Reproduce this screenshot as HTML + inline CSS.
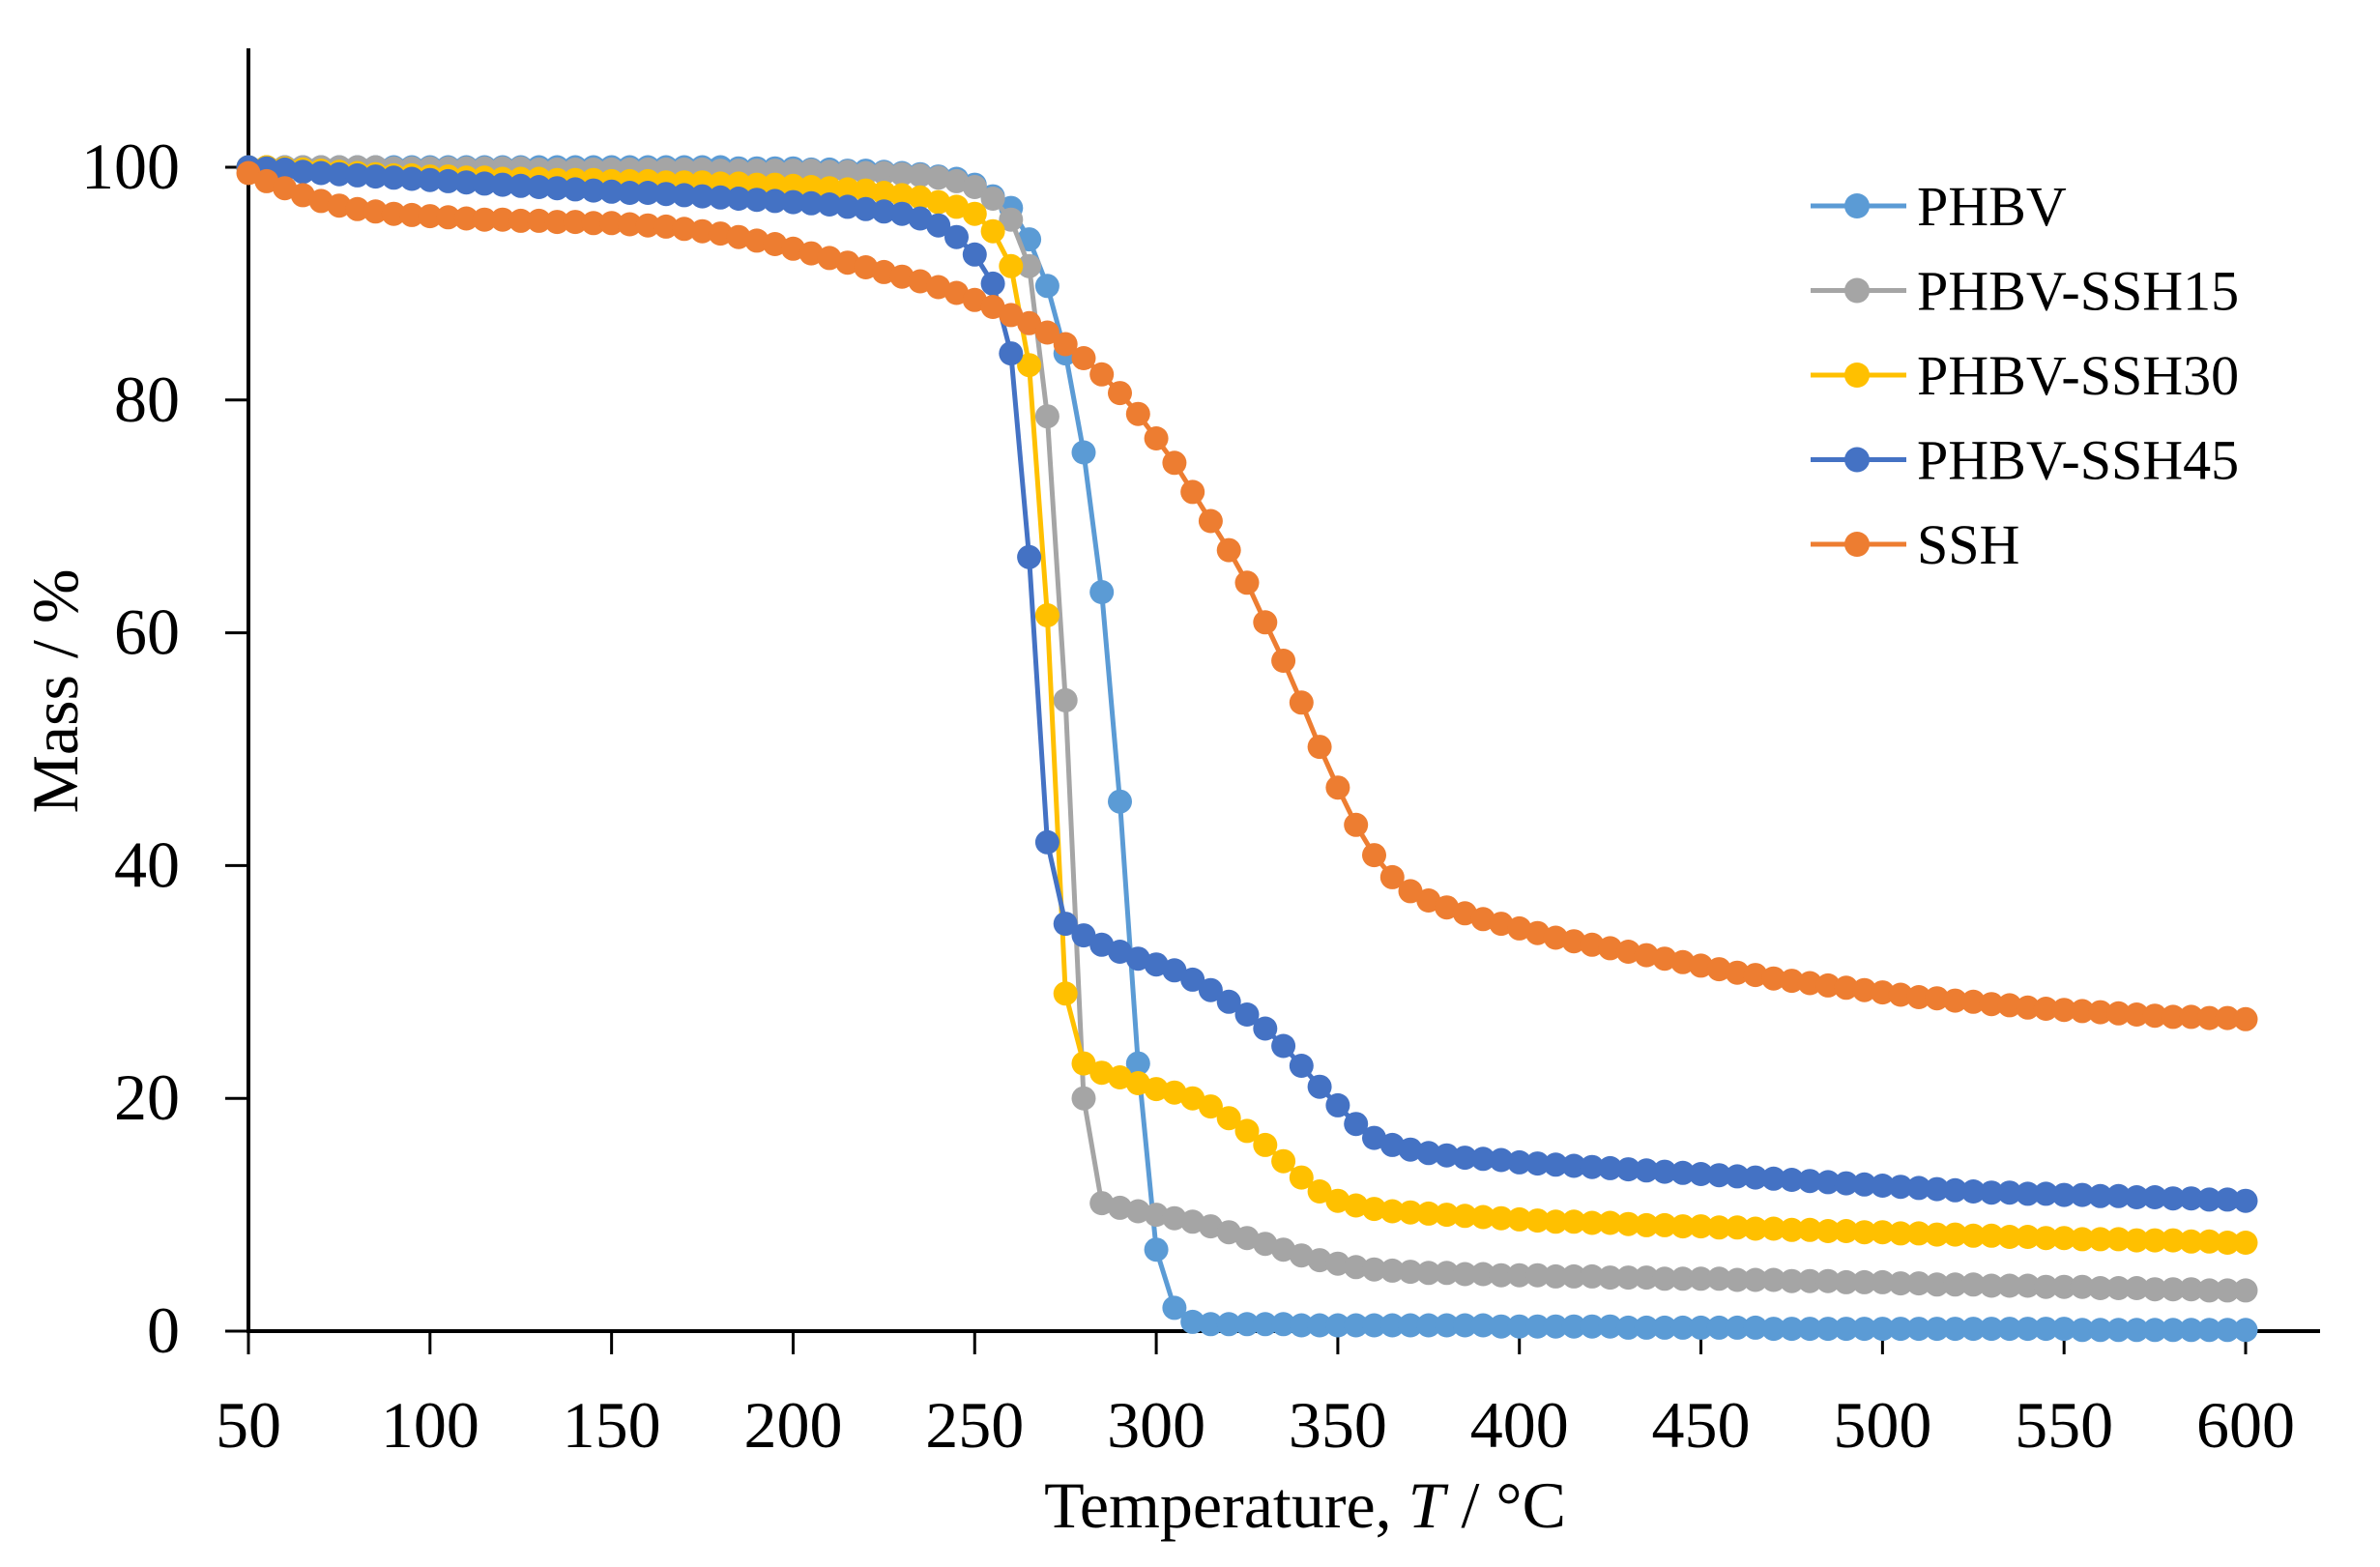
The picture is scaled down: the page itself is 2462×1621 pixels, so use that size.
<!DOCTYPE html>
<html><head><meta charset="utf-8"><style>
html,body{margin:0;padding:0;background:#fff;}
svg{display:block;font-family:"Liberation Serif",serif;}
</style></head><body>
<svg id="chart" width="2462" height="1621" viewBox="0 0 2462 1621" xmlns="http://www.w3.org/2000/svg">
<g id="axes"></g>
<g id="series"></g>
<g id="legend"></g>
<text x="0" y="0" font-size="68" text-anchor="middle" transform="translate(80,715) rotate(-90)">Mass / %</text>
<text x="1350" y="1580" font-size="68" text-anchor="middle">Temperature, <tspan font-style="italic">T</tspan> / °C</text>
</svg>
<script>
const temps = [];
for (let t = 50; t <= 600; t += 5) temps.push(t);
const xTicks = [50,100,150,200,250,300,350,400,450,500,550,600];
const yTicks = [0,20,40,60,80,100];
const seriesNames = ["PHBV","PHBV-SSH15","PHBV-SSH30","PHBV-SSH45","SSH"];
const seriesColors = ["#5B9BD5","#A5A5A5","#FFC000","#4472C4","#ED7D31"];
const phbv = [100,100,100,100,100,100,100,100,100,100,100,
100,100,100,100,100,100,100,100,100,100,
100,100,100,100,100,100,99.9,99.9,99.9,99.9,
99.8,99.8,99.7,99.7,99.6,99.5,99.4,99.2,99.0,98.5,
97.5,96.5,93.8,89.8,84,75.5,63.5,45.5,23,7,
2,0.8,0.6,0.6,0.6,0.6,0.6,0.5,0.5,0.5,
0.5,0.5,0.5,0.5,0.5,0.5,0.5,0.5,0.4,0.4,
0.4,0.4,0.4,0.4,0.4,0.3,0.3,0.3,0.3,0.3,
0.3,0.3,0.3,0.2,0.2,0.2,0.2,0.2,0.2,0.2,
0.2,0.2,0.2,0.2,0.2,0.2,0.2,0.2,0.2,0.2,
0.1,0.1,0.1,0.1,0.1,0.1,0.1,0.1,0.1,0.1];
const ssh15 = [100,100,100,100,100,100,100,100,99.9,99.9,99.9,
99.9,99.9,99.9,99.9,99.9,99.8,99.8,99.8,99.8,99.8,
99.8,99.8,99.8,99.8,99.8,99.7,99.7,99.7,99.7,99.7,
99.7,99.6,99.6,99.5,99.5,99.4,99.3,99.1,98.8,98.3,
97.3,95.5,91.5,78.6,54.2,20,11,10.6,10.3,10,
9.7,9.4,9.0,8.5,8.0,7.5,7.0,6.5,6.1,5.8,
5.5,5.3,5.2,5.1,5.0,5.0,4.9,4.9,4.8,4.8,
4.8,4.7,4.7,4.7,4.6,4.6,4.6,4.5,4.5,4.5,
4.5,4.4,4.4,4.4,4.3,4.3,4.3,4.2,4.2,4.2,
4.1,4.1,4.0,4.0,4.0,3.9,3.9,3.9,3.8,3.8,
3.8,3.7,3.7,3.7,3.6,3.6,3.6,3.5,3.5,3.5];
const ssh30 = [100,100,99.9,99.8,99.7,99.6,99.5,99.4,99.3,99.3,99.2,
99.2,99.1,99.1,99.0,99.0,99.0,98.9,98.9,98.9,98.8,
98.8,98.8,98.7,98.7,98.7,98.6,98.6,98.5,98.5,98.4,
98.3,98.2,98.1,98.0,97.8,97.6,97.4,97.0,96.6,96.0,
94.5,91.5,83,61.5,29,23,22.2,21.8,21.3,20.8,
20.5,20,19.3,18.3,17.2,16,14.6,13.2,12,11.2,
10.8,10.5,10.3,10.2,10.1,10,9.9,9.8,9.7,9.6,
9.5,9.4,9.4,9.3,9.3,9.2,9.1,9.1,9.0,9.0,
8.9,8.9,8.8,8.8,8.7,8.7,8.6,8.6,8.5,8.5,
8.4,8.4,8.3,8.3,8.2,8.2,8.1,8.1,8.0,8.0,
7.9,7.9,7.9,7.8,7.8,7.8,7.7,7.7,7.6,7.6];
const ssh45 = [100,99.9,99.8,99.6,99.5,99.4,99.3,99.2,99.1,99.0,98.9,
98.8,98.7,98.6,98.5,98.4,98.3,98.2,98.1,98.0,97.9,
97.8,97.8,97.7,97.6,97.5,97.4,97.3,97.2,97.1,97.0,
96.9,96.8,96.6,96.4,96.2,96.0,95.6,95.0,94.0,92.5,
90,84,66.5,42,35,34,33.2,32.6,32,31.5,
31,30.2,29.3,28.3,27.2,26,24.5,22.8,21,19.4,
17.8,16.6,16,15.6,15.3,15.1,14.9,14.8,14.7,14.5,
14.4,14.3,14.2,14.1,14.0,13.9,13.8,13.7,13.6,13.5,
13.4,13.3,13.2,13.1,13.0,12.9,12.8,12.7,12.6,12.5,
12.4,12.3,12.2,12.1,12.0,11.9,11.9,11.8,11.8,11.7,
11.7,11.6,11.6,11.5,11.5,11.4,11.4,11.3,11.3,11.2];
const ssh = [99.5,98.8,98.2,97.6,97.1,96.7,96.4,96.2,96.0,95.9,95.8,
95.7,95.6,95.5,95.5,95.4,95.4,95.3,95.3,95.2,95.2,
95.1,95.0,94.9,94.7,94.5,94.3,94.0,93.7,93.4,93.0,
92.6,92.2,91.8,91.4,91.0,90.6,90.2,89.7,89.2,88.6,
88.0,87.3,86.6,85.8,84.8,83.6,82.2,80.6,78.8,76.7,
74.6,72.1,69.6,67.1,64.3,60.9,57.6,54,50.2,46.7,
43.5,40.9,39,37.8,37,36.4,35.9,35.4,35,34.6,
34.2,33.8,33.5,33.2,32.9,32.6,32.3,32,31.7,31.4,
31.1,30.8,30.6,30.3,30.1,29.9,29.7,29.5,29.3,29.1,
28.9,28.7,28.6,28.4,28.3,28.1,28.0,27.8,27.7,27.6,
27.5,27.4,27.3,27.2,27.1,27.0,27.0,26.9,26.9,26.8];
const allSeries = [phbv, ssh15, ssh30, ssh45, ssh];

const NS = "http://www.w3.org/2000/svg";
const X0 = 257, XPER = (2323 - 257) / 550;
const Y0 = 1377, YPER = (1377 - 173) / 100;
function xScale(t){ return X0 + (t - 50) * XPER; }
function yScale(v){ return Y0 - v * YPER; }
function mk(tag, attrs, parent){
  const e = document.createElementNS(NS, tag);
  for (const k in attrs) e.setAttribute(k, attrs[k]);
  parent.appendChild(e);
  return e;
}
const axes = document.getElementById("axes");
let el = mk("line", {x1:X0, y1:50, x2:X0, y2:Y0+2, stroke:"#000", "stroke-width":4}, axes);


el = mk("line", {x1:X0-2, y1:Y0, x2:2400, y2:Y0, stroke:"#000", "stroke-width":4}, axes);


yTicks.forEach(v => {
  const y = yScale(v);
  let t = mk("line", {x1:X0-24, y1:y, x2:X0, y2:y, stroke:"#000", "stroke-width":3}, axes);
  
  
  let l = mk("text", {x:186, y:y+22, "font-size":68, "text-anchor":"end", fill:"#000"}, axes);
  l.textContent = v;
  
  
});
xTicks.forEach(v => {
  const x = xScale(v);
  let t = mk("line", {x1:x, y1:Y0, x2:x, y2:Y0+24, stroke:"#000", "stroke-width":3}, axes);
  
  
  let l = mk("text", {x:x, y:1497, "font-size":68, "text-anchor":"middle", fill:"#000"}, axes);
  l.textContent = v;
  
  
});
const sg = document.getElementById("series");
allSeries.forEach((vals, si) => {
  const g = mk("g", {}, sg);
  
  
  const pts = vals.map((v, i) => xScale(temps[i]).toFixed(1) + "," + yScale(v).toFixed(1)).join(" ");
  const pl = mk("polyline", {points:pts, fill:"none", stroke:seriesColors[si], "stroke-width":5, "stroke-linejoin":"round"}, g);
  
  
  vals.forEach((v, i) => {
    const c = mk("circle", {cx:xScale(temps[i]).toFixed(1), cy:yScale(v).toFixed(1), r:12.5, fill:seriesColors[si]}, g);
    
    
  });
});
const lg = document.getElementById("legend");
seriesNames.forEach((n, i) => {
  const y = 213 + i * 87.5;
  const g = mk("g", {}, lg);
  
  
  mk("line", {x1:1873, y1:y, x2:1972, y2:y, stroke:seriesColors[i], "stroke-width":5}, g);
  mk("circle", {cx:1921, cy:y, r:13, fill:seriesColors[i]}, g);
  const t = mk("text", {x:1983, y:y+20, "font-size":58, fill:"#000"}, g);
  t.textContent = n;
  
  
});
</script>
</body></html>
